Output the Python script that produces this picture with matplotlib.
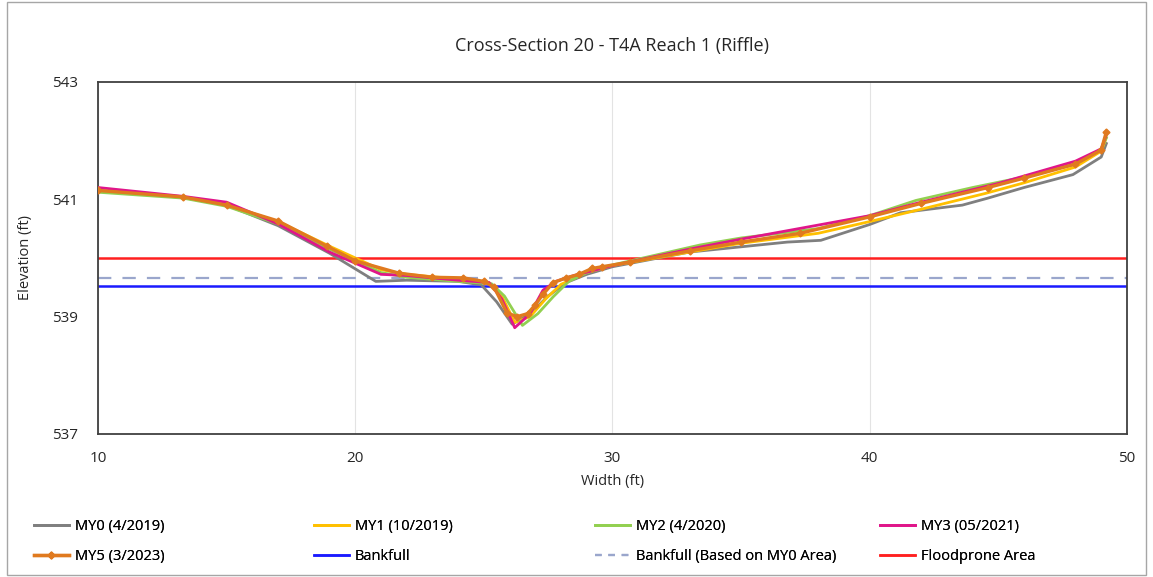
import matplotlib.pyplot as plt
from matplotlib.lines import Line2D
from matplotlib.patches import Rectangle

# survey data (width ft, elevation ft)
my0_x = [10, 13.3, 15, 17, 19, 20.8, 22, 24, 24.9, 25.5, 26.1, 26.8, 27.5, 28.2, 29, 30,
         33, 36.8, 38.1, 40, 41.2, 43.6, 44.6, 46, 47.9, 49.0, 49.2]
my0_y = [541.15, 541.03, 540.9, 540.55, 540.08, 539.6, 539.62, 539.6, 539.54, 539.25, 538.87,
         539.05, 539.35, 539.58, 539.72, 539.85, 540.1, 540.27, 540.3, 540.57, 540.77, 540.9,
         541.02, 541.2, 541.42, 541.72, 541.95]

my1_x = [10, 13.3, 15, 17, 19, 21, 22, 24, 25.2, 25.7, 26.2, 26.8, 27.4, 28, 29, 30,
         33, 35, 38, 40, 42, 44.5, 46, 48, 49.0, 49.2]
my1_y = [541.15, 541.03, 540.9, 540.62, 540.2, 539.8, 539.72, 539.64, 539.58, 539.35, 538.9,
         539.0, 539.3, 539.55, 539.75, 539.87, 540.1, 540.25, 540.42, 540.62, 540.83, 541.1,
         541.28, 541.55, 541.82, 542.05]

my2_x = [10, 13.3, 15, 17, 19, 21, 22, 24, 25.3, 25.8, 26.5, 27.1, 27.7, 28.3, 29, 30,
         33.4, 35, 38, 40, 41.8, 44, 46, 48, 49.0, 49.2]
my2_y = [541.12, 541.02, 540.88, 540.58, 540.15, 539.75, 539.67, 539.6, 539.56, 539.35, 538.85,
         539.05, 539.34, 539.6, 539.75, 539.88, 540.22, 540.34, 540.5, 540.72, 540.98, 541.2,
         541.38, 541.6, 541.85, 542.05]

my3_x = [10, 13.3, 15, 17, 19, 21, 22, 24, 25.2, 25.7, 26.2, 26.8, 27.3, 27.8, 28.5, 30,
         33, 35, 37, 40, 42, 45, 48, 49.0, 49.2]
my3_y = [541.2, 541.05, 540.95, 540.58, 540.1, 539.72, 539.7, 539.62, 539.58, 539.3, 538.81,
         539.05, 539.45, 539.6, 539.7, 539.87, 540.15, 540.32, 540.48, 540.72, 540.95, 541.27,
         541.65, 541.86, 542.1]

my5_x = [10, 13.3, 15, 17, 18.9, 20, 21.7, 23, 24.2, 25.0, 25.4, 25.9, 26.3, 26.7, 27.0, 27.3,
         27.7, 28.2, 28.7, 29.2, 29.6, 30.7, 33, 35, 37.3, 40, 42, 44.6, 46, 48, 49.0, 49.2]
my5_y = [541.15, 541.04, 540.9, 540.63, 540.2, 539.95, 539.74, 539.67, 539.66, 539.6, 539.5,
         539.06, 539.0, 539.05, 539.2, 539.38, 539.58, 539.66, 539.72, 539.82, 539.85, 539.93,
         540.12, 540.27, 540.42, 540.7, 540.93, 541.2, 541.36, 541.6, 541.84, 542.15]

bankfull = 539.52
bankfull_my0 = 539.66
floodprone = 540.0

plt.rcParams['font.family'] = ['Open Sans', 'DejaVu Sans']

fig = plt.figure(figsize=(11.53, 5.77), dpi=100)
ax = fig.add_axes([0.085, 0.248, 0.8924, 0.61])

# outer chart border
fig.patches.append(Rectangle((0.006, 0.003), 0.988, 0.994, transform=fig.transFigure,
                             fill=False, edgecolor='#a6a6a6', linewidth=1.0))

ax.axhline(floodprone, color='#ff2020', linewidth=1.8, zorder=2)
ax.axhline(bankfull_my0, color='#9aa6cc', linewidth=1.6, linestyle=(0, (6, 5)), zorder=2)
ax.axhline(bankfull, color='#1a1aff', linewidth=1.8, zorder=2)

ax.plot(my0_x, my0_y, color='#7f7f7f', linewidth=2, zorder=3)
ax.plot(my1_x, my1_y, color='#ffc000', linewidth=2, zorder=3)
ax.plot(my2_x, my2_y, color='#92d050', linewidth=2, zorder=3)
ax.plot(my3_x, my3_y, color='#e0168a', linewidth=2, zorder=4)
ax.plot(my5_x, my5_y, color='#e07a1f', linewidth=2.4, marker='D', markersize=3.5, zorder=5)

ax.set_xlim(10, 50)
ax.set_ylim(537, 543)
ax.set_xticks([10, 20, 30, 40, 50])
ax.set_yticks([537, 539, 541, 543])
ax.tick_params(length=0, labelsize=11, colors='#262626', pad=14)
ax.tick_params(axis='x', pad=12)
ax.grid(axis='x', color='#e3e3e3', linewidth=0.8)
for s in ax.spines.values():
    s.set_color('#404040')
    s.set_linewidth(1.3)

ax.set_title('Cross-Section 20 - T4A Reach 1 (Riffle)', fontsize=13, color='#262626', pad=22)
ax.set_xlabel('Width (ft)', fontsize=10.5, color='#262626', labelpad=6)
ax.set_ylabel('Elevation (ft)', fontsize=10.5, color='#262626', labelpad=14)

# legend: four columns placed like the reference, two rows each
columns = [
    ([Line2D([], [], color='#7f7f7f', linewidth=2),
      Line2D([], [], color='#e07a1f', linewidth=2.4, marker='D', markersize=3.5)],
     ['MY0 (4/2019)', 'MY5 (3/2023)'], 0.018),
    ([Line2D([], [], color='#ffc000', linewidth=2),
      Line2D([], [], color='#1a1aff', linewidth=1.8)],
     ['MY1 (10/2019)', 'Bankfull'], 0.261),
    ([Line2D([], [], color='#92d050', linewidth=2),
      Line2D([], [], color='#9aa6cc', linewidth=1.6, linestyle=(0, (3, 3)))],
     ['MY2 (4/2020)', 'Bankfull (Based on MY0 Area)'], 0.505),
    ([Line2D([], [], color='#e0168a', linewidth=2),
      Line2D([], [], color='#ff2020', linewidth=1.8)],
     ['MY3 (05/2021)', 'Floodprone Area'], 0.752),
]
for handles, labels, xpos in columns:
    leg = fig.legend(handles, labels, ncol=1, loc='lower left', bbox_to_anchor=(xpos, 0.0),
                     frameon=False, fontsize=10.5, handlelength=2.4,
                     labelspacing=1.0, handletextpad=0.4)
    fig.add_artist(leg)

fig.savefig('out.png', dpi=100)
